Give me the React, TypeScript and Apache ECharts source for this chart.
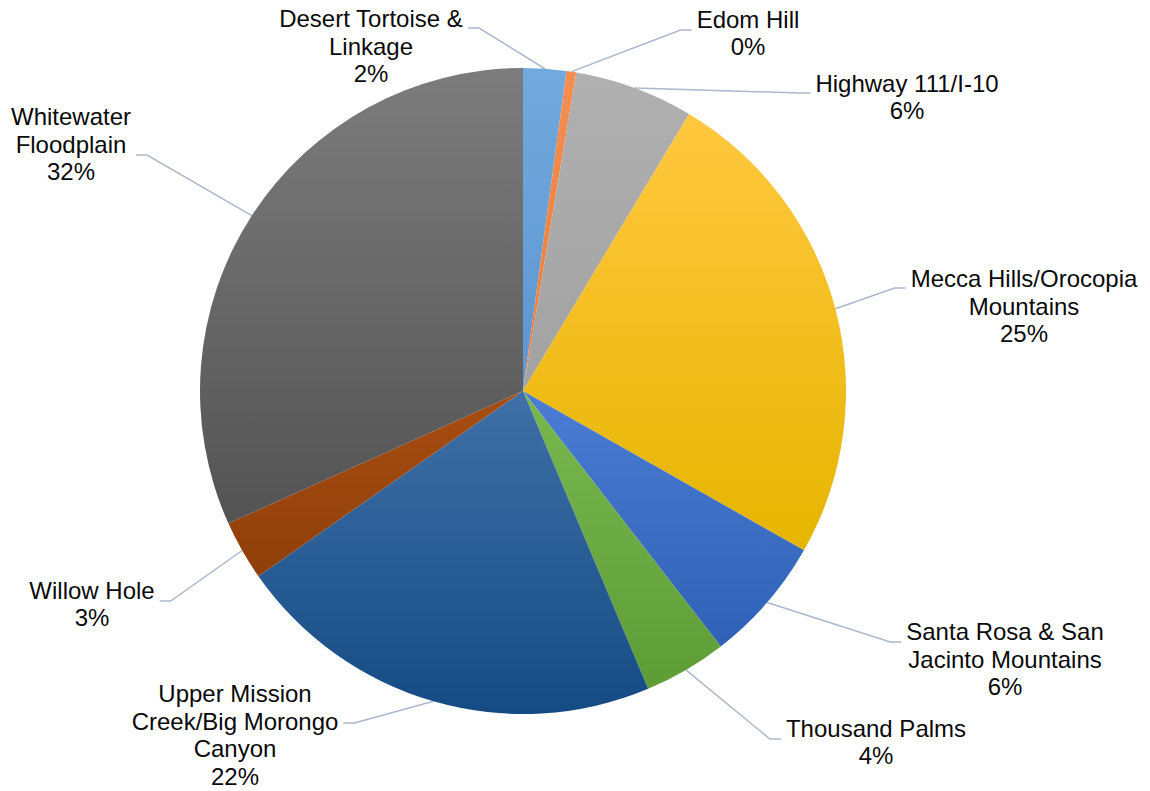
import React, { useEffect, useRef } from 'react';
import * as echarts from 'echarts';

// ---- Data ----
const categories = [
  'Desert Tortoise & Linkage',
  'Edom Hill',
  'Highway 111/I-10',
  'Mecca Hills/Orocopia Mountains',
  'Santa Rosa & San Jacinto Mountains',
  'Thousand Palms',
  'Upper Mission Creek/Big Morongo Canyon',
  'Willow Hole',
  'Whitewater Floodplain',
];
const wrappedNames = [
  'Desert Tortoise &\nLinkage',
  'Edom Hill',
  'Highway 111/I-10',
  'Mecca Hills/Orocopia\nMountains',
  'Santa Rosa & San\nJacinto Mountains',
  'Thousand Palms',
  'Upper Mission\nCreek/Big Morongo\nCanyon',
  'Willow Hole',
  'Whitewater\nFloodplain',
];
const shares = [2.15, 0.49, 5.95, 24.6, 6.3, 4.15, 21.6, 3.0, 31.7];

// ---- Styles ----
const colorTop = ['#72A9DE', '#F38E52', '#B0B0B0', '#FFC83F', '#4A7DD3', '#79B84F', '#3F70A7', '#A84D12', '#7C7C7C'];
const colorBottom = ['#5C96D0', '#EB7C38', '#A2A2A2', '#E6B500', '#2F61B6', '#5E9C36', '#154B84', '#8F3F08', '#535353'];

// label layout: centre x, centre y, leader-line attach y
const labelPos = [
  [371, 46, 28],
  [748, 33, 30],
  [907, 97, 93],
  [1024, 306, 288],
  [1005, 659, 642],
  [876, 742, 739],
  [235, 735, 723],
  [92, 604, 601],
  [71, 144, 155],
];

export default function App() {
  const ref = useRef<HTMLDivElement>(null);
  useEffect(() => {
    if (!ref.current) return;
    const chart = echarts.init(ref.current, null, { renderer: 'svg' });
    const data = categories.map((name, i) => ({
      name,
      value: shares[i],
      itemStyle: {
        color: new echarts.graphic.LinearGradient(0, 0, 0, 1, [
          { offset: 0, color: colorTop[i] },
          { offset: 1, color: colorBottom[i] },
        ]),
      },
    }));
    chart.setOption({
      animation: false,
      backgroundColor: '#ffffff',
      series: [
        {
          type: 'pie',
          center: [523, 391],
          radius: 323,
          startAngle: 90,
          clockwise: true,
          avoidLabelOverlap: false,
          data,
          itemStyle: { borderWidth: 0 },
          emphasis: { disabled: true },
          label: {
            show: true,
            position: 'outside',
            formatter: (p: any) => `${wrappedNames[p.dataIndex]}\n${Math.round(p.percent)}%`,
            fontFamily: '"Liberation Sans", Arial, sans-serif',
            fontSize: 24,
            lineHeight: 27.5,
            color: '#0a0a0a',
            align: 'center',
          },
          labelLine: {
            show: true,
            length: 5,
            length2: 5,
            smooth: false,
            lineStyle: { color: '#AAB8CB', width: 1.5 },
          },
          labelLayout: (params: any) => {
            const [x, y, ay] = labelPos[params.dataIndex];
            const w = params.labelRect.width;
            const pts = params.labelLinePoints;
            const res: any = { x, y, align: 'center', verticalAlign: 'middle' };
            if (pts && pts.length) {
              const start = pts[0];
              const leftOfStart = x < start[0];
              const ax = leftOfStart ? x + w / 2 + 5 : x - w / 2 - 5;
              const bx = leftOfStart ? ax + 11 : ax - 11;
              res.labelLinePoints = [
                [start[0], start[1]],
                [bx, ay],
                [ax, ay],
              ];
            }
            return res;
          },
        },
      ],
    });
    return () => chart.dispose();
  }, []);
  return (
    <div
      ref={ref}
      style={{ position: 'fixed', left: 0, top: 0, width: 1150, height: 791, background: '#fff' }}
    />
  );
}
